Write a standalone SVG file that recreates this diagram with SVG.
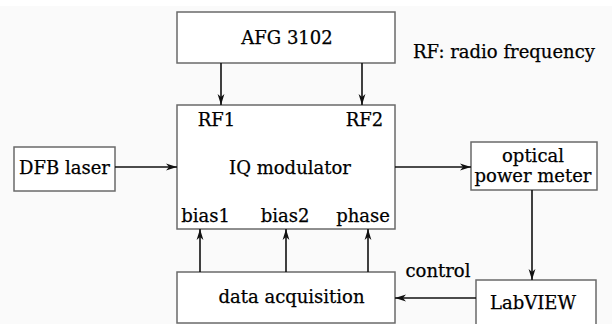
<svg xmlns="http://www.w3.org/2000/svg" width="612" height="324" viewBox="0 0 612 324">
<defs>
<marker id="ah" markerUnits="userSpaceOnUse" markerWidth="12" markerHeight="8" refX="11" refY="4" orient="auto">
<path d="M0,0.6 L11,4 L0,7.4 L3,4 Z" fill="#111"/>
</marker>
</defs>
<style>
.box{fill:#fff;stroke:#6a6a6a;stroke-width:1.5}
.t{font-family:"DejaVu Serif","Liberation Serif",serif;font-size:18px;fill:#000;stroke:#000;stroke-width:0.25;text-anchor:middle}
.c{stroke:#111;stroke-width:1.6;fill:none;marker-end:url(#ah)}
</style>
<rect x="0" y="0" width="612" height="324" fill="#ffffff"/>
<rect x="0" y="6" width="612" height="318" fill="#fafafa"/>
<g id="afg"><rect class="box" x="177" y="12" width="218" height="51"/><text class="t" x="287" y="44">AFG 3102</text></g>
<g id="iq"><rect class="box" x="177" y="105" width="218" height="124"/>
<text class="t" x="216.5" y="126">RF1</text><text class="t" x="364.5" y="126">RF2</text>
<text class="t" x="290" y="174">IQ modulator</text>
<text class="t" x="205.5" y="222">bias1</text><text class="t" x="285" y="222">bias2</text><text class="t" x="363" y="222">phase</text></g>
<g id="dfb"><rect class="box" x="14" y="147" width="101" height="44"/><text class="t" x="64.5" y="174">DFB laser</text></g>
<g id="opm"><rect class="box" x="471" y="142" width="126" height="48"/><text class="t" x="533" y="162">optical</text><text class="t" x="533" y="182">power meter</text></g>
<g id="daq"><rect class="box" x="177" y="272" width="218" height="51"/><text class="t" x="291.5" y="303">data acquisition</text></g>
<g id="lab"><rect class="box" x="476" y="280" width="120" height="50"/><text class="t" x="533" y="309">LabVIEW</text></g>
<g id="legend"><text class="t" x="504" y="58">RF: radio frequency</text></g>
<g id="connectors">
<line class="c" x1="221" y1="63" x2="221" y2="105"/>
<line class="c" x1="362" y1="63" x2="362" y2="105"/>
<line class="c" x1="115" y1="167" x2="177" y2="167"/>
<line class="c" x1="395" y1="167" x2="471" y2="167"/>
<line class="c" x1="532" y1="190" x2="532" y2="280"/>
<line class="c" x1="476" y1="298" x2="395" y2="298"/>
<line class="c" x1="200" y1="272" x2="200" y2="229"/>
<line class="c" x1="286" y1="272" x2="286" y2="229"/>
<line class="c" x1="368" y1="272" x2="368" y2="229"/>
<text class="t" x="438" y="277">control</text>
</g>
</svg>
